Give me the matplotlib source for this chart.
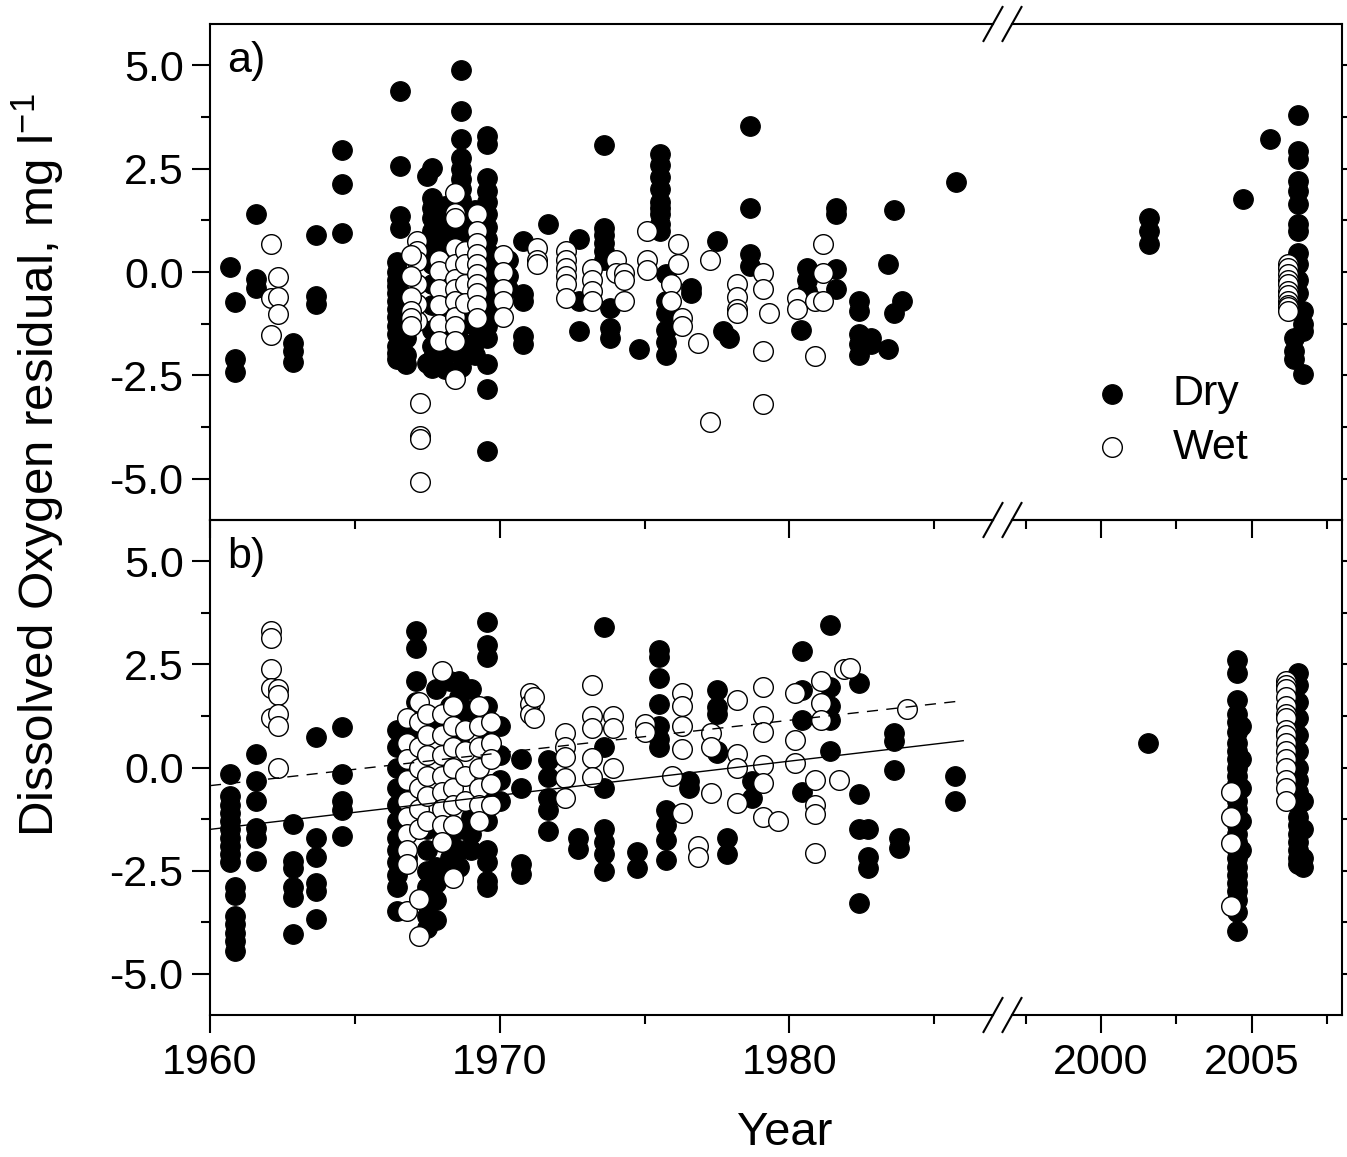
import numpy as np
import matplotlib
matplotlib.use('Agg')
import matplotlib.pyplot as plt
from matplotlib.lines import Line2D
from matplotlib.ticker import MultipleLocator, FixedLocator, FormatStrFormatter

plt.rcParams['font.family'] = ['Liberation Sans', 'DejaVu Sans']
plt.rcParams['axes.unicode_minus'] = False
plt.rcParams['mathtext.fontset'] = 'custom'
plt.rcParams['mathtext.rm'] = 'Liberation Sans'

# residuals read per sampling column: (year, [values])
a_dry = [
    (1960.7, [0.12]),
    (1960.85, [-0.73, -2.1, -2.42]),
    (1961.6, [1.40, -0.17, -0.38]),
    (1962.85, [-1.72, -1.91, -2.18]),
    (1963.65, [0.90, -0.58, -0.78]),
    (1964.55, [2.95, 2.13, 0.94]),
    (1966.55, [4.38, 2.57, 1.36, 1.07]),
    (1966.45, [0.25, 0.0, -0.2, -0.35, -0.5, -0.7, -0.9, -1.1, -1.3, -1.5, -1.79, -1.95, -2.1]),
    (1966.75, [-1.6, -2.0, -2.23]),
    (1967.65, [2.52, 1.8, 1.55, 1.3, 1.0, 0.6, 0.2, -0.3, -0.8, -1.4, -1.8, -2.1, -2.32]),
    (1967.5, [2.32, -2.2]),
    (1968.1, [1.6, 1.2, 0.9, 0.5, 0.0, -0.5, -1.0, -1.5, -2.0, -2.35]),
    (1968.65, [4.89, 3.9, 3.22, 2.76, 2.5, 2.25, 2.0, 1.75, 1.5, 1.2, 0.9, 0.6, 0.3,
               -0.1, -0.5, -0.9, -1.3, -1.7, -2.0, -2.3]),
    (1969.15, [1.5, 1.0, 0.5, -0.3, -0.8, -1.3, -1.7, -2.0]),
    (1969.55, [3.29, 3.1, 2.28, 1.96, 1.7, 1.4, 1.1, 0.8, 0.5, 0.2, -0.2, -0.6, -1.0,
               -1.3, -1.6, -2.23, -2.83, -4.33]),
    (1970.3, [0.3, -0.1, -0.4]),
    (1970.8, [0.75, -0.53, -0.7, -1.55, -1.74]),
    (1971.65, [1.16]),
    (1972.75, [0.8, -0.7, -1.43]),
    (1973.6, [3.07, 1.07, 0.9, 0.7, 0.5, 0.3]),
    (1973.8, [-0.87, -1.36, -1.6]),
    (1974.8, [-1.86]),
    (1975.55, [2.86, 2.6, 2.3, 2.0, 1.7, 1.55, 1.4, 1.16, 1.0]),
    (1975.75, [-0.05, -0.7, -1.0, -1.4, -1.7, -2.0]),
    (1976.6, [-0.38, -0.5]),
    (1977.5, [0.75]),
    (1977.7, [-1.43]),
    (1977.9, [-1.6]),
    (1978.65, [3.53, 1.55, 0.43, 0.15]),
    (1980.4, [-1.4]),
    (1980.6, [0.1, -0.2, -0.46]),
    (1981.6, [1.55, 1.4, 0.07, -0.4]),
    (1982.4, [-0.7, -0.95, -1.5, -1.75, -2.0]),
    (1982.8, [-1.6, -1.75]),
    (1983.4, [0.19, -1.86]),
    (1983.6, [1.5, -1.0]),
    (1983.9, [-0.7]),
    (1985.75, [2.18]),
    (2001.6, [1.3, 1.0, 0.68]),
    (2004.7, [1.77]),
    (2005.6, [3.22]),
    (2006.55, [3.8, 2.93, 2.74, 2.2, 1.96, 1.65, 1.16, 1.0, 0.46, 0.19, -0.2, -0.5]),
    (2006.7, [-0.94, -1.26, -1.43, -2.47]),
    (2006.4, [-1.6, -1.9, -2.1]),
]

a_wet = [
    (1962.1, [0.68, -0.63, -1.52]),
    (1962.35, [-0.12, -0.6, -1.01]),
    (1967.15, [0.75, 0.5, 0.27, -0.29, -0.78, -1.19]),
    (1966.95, [0.4, -0.1, -0.6, -0.95, -1.11, -1.3]),
    (1967.25, [-3.17, -3.97, -4.05, -5.08]),
    (1967.9, [0.3, 0.02, -0.4, -0.8, -1.25, -1.67]),
    (1968.45, [1.91, 1.43, 1.3, 0.58, 0.2, -0.17, -0.4, -0.7, -1.1, -1.3, -1.67, -2.59]),
    (1968.8, [0.5, 0.19, -0.3, -0.76]),
    (1969.2, [1.4, 0.99, 0.7, 0.44, 0.2, -0.05, -0.3, -0.5, -0.8, -1.11]),
    (1970.1, [0.4, 0.0, -0.4, -0.7, -1.1]),
    (1971.3, [0.58, 0.3, 0.19]),
    (1972.3, [0.5, 0.3, 0.1, -0.1, -0.3, -0.63]),
    (1973.2, [0.07, -0.2, -0.45, -0.7]),
    (1974.0, [0.29, -0.02]),
    (1974.3, [-0.02, -0.2, -0.7]),
    (1975.1, [1.0, 0.28, 0.04]),
    (1975.9, [-0.3, -0.7]),
    (1976.15, [0.68, 0.2]),
    (1976.3, [-1.11, -1.3]),
    (1976.85, [-1.72]),
    (1977.25, [0.29, -3.63]),
    (1978.2, [-0.3, -0.6, -0.9, -1.0]),
    (1979.1, [-0.02, -0.4, -1.9, -3.2]),
    (1979.3, [-1.0]),
    (1980.25, [-0.63, -0.9]),
    (1980.9, [-0.7, -2.03]),
    (1981.15, [0.68, -0.02, -0.7]),
    (2006.2, [0.19, 0.1, -0.05, -0.2, -0.3, -0.45, -0.55, -0.7, -0.8, -0.85, -0.95]),
]

b_dry = [
    (1960.7, [-0.15, -0.7, -0.9, -1.1, -1.3, -1.5, -1.7, -1.9, -2.1, -2.3]),
    (1960.85, [-2.9, -3.1, -3.6, -3.8, -4.0, -4.2, -4.44]),
    (1961.6, [0.33, -0.32, -0.8, -1.46, -1.7, -2.26]),
    (1962.85, [-1.36, -2.26, -2.43, -2.9, -3.15, -4.03]),
    (1963.65, [0.73, -1.7, -2.18, -2.8, -3.0, -3.67]),
    (1964.55, [0.97, -0.15, -0.8, -1.04, -1.65]),
    (1966.45, [0.9, 0.5, 0.0, -0.5, -0.9, -1.3, -1.7, -2.0, -2.3, -2.6, -2.9, -3.47]),
    (1966.8, [0.7, -1.0, -2.2]),
    (1967.1, [3.32, 2.9, 2.1, 1.6, 1.0]),
    (1967.5, [-1.5, -2.0, -2.5, -2.9, -3.3, -3.6, -3.9]),
    (1967.8, [1.9, 1.2, -2.4, -2.8, -3.2, -3.7]),
    (1968.3, [2.1, 1.5, -1.8, -2.2, -2.6]),
    (1968.6, [2.1, 1.7, 1.2, 0.7, -1.5, -2.0, -2.4]),
    (1969.0, [1.9, 1.4, -1.2, -1.6, -2.0]),
    (1969.55, [3.52, 2.96, 2.67, 1.5, 0.9, -0.6, -1.3, -2.0, -2.3, -2.75, -2.9]),
    (1970.0, [1.0, 0.3, -0.3, -0.8]),
    (1970.75, [0.2, -0.5, -2.33, -2.57]),
    (1971.65, [0.17, -0.24, -0.75, -1.04, -1.53]),
    (1972.7, [-1.72, -1.97]),
    (1973.6, [3.4, 0.49, -0.5, -1.48, -1.8, -2.1, -2.5]),
    (1974.75, [-2.06, -2.43]),
    (1975.5, [2.84, 2.67, 2.16, 1.55, 1.0, 0.7, 0.49]),
    (1975.75, [-1.04, -1.4, -1.75, -2.25]),
    (1976.55, [-0.32, -0.5]),
    (1977.5, [1.87, 1.46, 1.3, 0.41, 0.34]),
    (1977.85, [-1.72, -2.1]),
    (1978.7, [-0.32, -0.73]),
    (1980.45, [2.82, 1.87, 1.14, -0.6]),
    (1981.4, [3.45, 1.94, 1.5, 1.14, 0.4]),
    (1982.4, [2.04, -0.64, -1.48, -3.28]),
    (1982.7, [-1.48, -2.18, -2.43]),
    (1983.6, [0.83, 0.65, -0.07]),
    (1983.8, [-1.72, -1.94]),
    (1985.7, [-0.2, -0.8]),
    (2001.55, [0.6]),
    (2004.5, [2.6, 2.28, 1.63, 1.3, 1.1, 0.85, 0.6, 0.4, 0.2, 0.0, -0.2, -0.4, -0.6, -0.8,
              -1.0, -1.2, -1.4, -1.6, -1.8, -2.0, -2.2, -2.4, -2.6, -2.8, -3.0, -3.2, -3.5, -3.96]),
    (2004.65, [1.0, 0.2, -0.5, -1.3, -2.0]),
    (2006.55, [2.28, 2.0, 1.6, 1.2, 0.8, 0.4, 0.0, -0.3, -0.6, -0.9, -1.2, -1.4, -1.6,
               -1.8, -2.0, -2.2, -2.35]),
    (2006.7, [-0.8, -1.5, -2.2, -2.4]),
]

b_wet = [
    (1962.1, [3.32, 3.13, 2.4, 1.92, 1.2]),
    (1962.35, [1.9, 1.75, 1.3, 1.0, 0.0]),
    (1966.8, [1.2, 0.6, 0.2, -0.3, -0.8, -1.2, -1.6, -2.0, -2.33, -3.47]),
    (1967.2, [1.6, 1.1, 0.5, 0.0, -0.5, -1.0, -1.5, -3.18, -4.08]),
    (1967.5, [1.3, 0.8, 0.3, -0.2, -0.7, -1.3]),
    (1968.0, [2.35, 1.3, 0.8, 0.3, -0.2, -0.6, -1.0, -1.4, -1.8]),
    (1968.4, [1.5, 1.0, 0.5, 0.0, -0.5, -0.9, -1.4, -2.67]),
    (1968.8, [0.9, 0.4, -0.2, -0.8]),
    (1969.3, [1.5, 1.0, 0.5, 0.0, -0.5, -0.9, -1.3]),
    (1969.7, [1.1, 0.6, 0.2, -0.4, -0.9]),
    (1971.05, [1.8, 1.55, 1.3]),
    (1971.2, [1.7, 1.2]),
    (1972.25, [0.83, 0.5, 0.25, -0.25, -0.73]),
    (1973.2, [1.99, 1.24, 0.95, 0.24, -0.24]),
    (1973.9, [1.24, 0.95, 0.0]),
    (1975.0, [1.06, 0.85]),
    (1975.95, [-0.2]),
    (1976.3, [1.8, 1.5, 1.0, 0.44, -1.1]),
    (1976.85, [-1.9, -2.18]),
    (1977.3, [0.83, 0.49, -0.63]),
    (1978.2, [1.63, 0.32, -0.02, -0.85]),
    (1979.1, [1.94, 1.24, 0.85, 0.07, -0.38, -1.2]),
    (1979.6, [-1.29]),
    (1980.2, [1.8, 0.66, 0.1]),
    (1980.9, [-0.3, -0.9, -1.12, -2.08]),
    (1981.1, [2.1, 1.56, 1.14]),
    (1981.7, [-0.3]),
    (1981.9, [2.4]),
    (1982.1, [2.42]),
    (1984.05, [1.43]),
    (2004.3, [-0.6, -1.21, -1.84, -3.35]),
    (2006.15, [2.1, 2.0, 1.9, 1.7, 1.5, 1.3, 1.2, 0.9, 0.8, 0.6, 0.4, 0.2, 0.0, -0.3, -0.5, -0.8]),
]

# linear trends in panel b (1960-1986 only)
trend_year = [1960, 1986]
dry_trend = [-1.50, 0.65]
wet_trend = [-0.44, 1.62]


def flatten(groups):
    xs, ys = [], []
    for yr, vals in groups:
        xs += [yr] * len(vals)
        ys += vals
    return np.array(xs), np.array(ys)


W, H = 1347, 1157
fig = plt.figure(figsize=(W / 100, H / 100), dpi=100)


def px(x, y):
    return x / W, 1 - y / H


xl0, xbrk0, xbrk1, xr1 = 210, 993, 1012, 1342
rows = [(24, 520), (520, 1015)]
FS = 31

axes = []
for i, (top, bot) in enumerate(rows):
    axL = fig.add_axes([xl0 / W, 1 - bot / H, (xbrk0 - xl0) / W, (bot - top) / H])
    axR = fig.add_axes([xbrk1 / W, 1 - bot / H, (xr1 - xbrk1) / W, (bot - top) / H])
    for ax in (axL, axR):
        ax.set_facecolor('none')
        ax.set_ylim(-6, 6)
        ax.yaxis.set_major_locator(MultipleLocator(2.5))
        ax.yaxis.set_minor_locator(MultipleLocator(1.25))
        ax.yaxis.set_major_formatter(FormatStrFormatter('%.1f'))
        for s in ax.spines.values():
            s.set_linewidth(1.5)
        ax.tick_params(which='both', direction='out', width=1.5, labelsize=FS,
                       top=False, bottom=True)
        ax.tick_params(which='major', length=13)
        ax.tick_params(which='minor', length=6.5)
    axL.set_xlim(1960, 1960 + (xbrk0 - xl0) / 28.97)
    axR.set_xlim(2000 - (1101 - xbrk1) / 30.13, 2000 + (xr1 - 1101) / 30.13)
    axL.xaxis.set_major_locator(FixedLocator([1960, 1970, 1980]))
    axL.xaxis.set_minor_locator(FixedLocator([1965, 1975, 1985]))
    axR.xaxis.set_major_locator(FixedLocator([2000, 2005]))
    axR.xaxis.set_minor_locator(FixedLocator([1997.5, 2002.5, 2007.5]))
    axL.spines['right'].set_visible(False)
    axR.spines['left'].set_visible(False)
    axL.tick_params(axis='y', which='both', left=True, right=False, pad=6)
    axR.tick_params(axis='y', which='both', left=False, right=True, labelleft=False)
    axL.tick_params(axis='x', pad=7)
    axR.tick_params(axis='x', pad=7)
    if i == 0:
        axL.tick_params(axis='x', labelbottom=False)
        axR.tick_params(axis='x', labelbottom=False)
    axes.append((axL, axR))

panels = [(a_dry, a_wet), (b_dry, b_wet)]
for (axL, axR), (dry, wet) in zip(axes, panels):
    dx, dy = flatten(dry)
    wx, wy = flatten(wet)
    for ax in (axL, axR):
        ax.scatter(dx, dy, s=200, c='black', edgecolors='black', linewidths=0.8,
                   zorder=2, label='Dry')
        ax.scatter(wx, wy, s=200, facecolors='white', edgecolors='black', linewidths=1.0,
                   zorder=3, label='Wet')

axb = axes[1][0]
axb.plot(trend_year, dry_trend, color='black', lw=1.0, zorder=4)
axb.plot(trend_year, wet_trend, color='black', lw=1.0, ls=(0, (8, 6)), zorder=4)

axes[0][0].text(0.022, 0.965, 'a)', transform=axes[0][0].transAxes, fontsize=FS,
                va='top', ha='left')
axes[1][0].text(0.022, 0.965, 'b)', transform=axes[1][0].transAxes, fontsize=FS,
                va='top', ha='left')

h, l = axes[0][1].get_legend_handles_labels()
leg = fig.legend(h, l, loc='center left', bbox_to_anchor=px(1090, 421), frameon=False,
                 fontsize=FS, scatterpoints=1, handlelength=1.0, handletextpad=0.92,
                 labelspacing=0.31, borderpad=0, borderaxespad=0)

# axis break marks
for yb in (24, 520, 1015):
    for xc in (xbrk0, xbrk1):
        x0, y0 = px(xc - 9.5, yb + 17)
        x1, y1 = px(xc + 9.5, yb - 17)
        fig.add_artist(Line2D([x0, x1], [y0, y1], color='black', lw=1.5))

fig.text(*px(785, 1145), 'Year', fontsize=34, ha='center', va='baseline')
fig.text(*px(38, 465), 'Dissolved Oxygen residual, mg l$^{\\mathregular{-1}}$',
         fontsize=35.5, rotation=90, ha='center', va='center')

fig.savefig('out.png', dpi=100)
